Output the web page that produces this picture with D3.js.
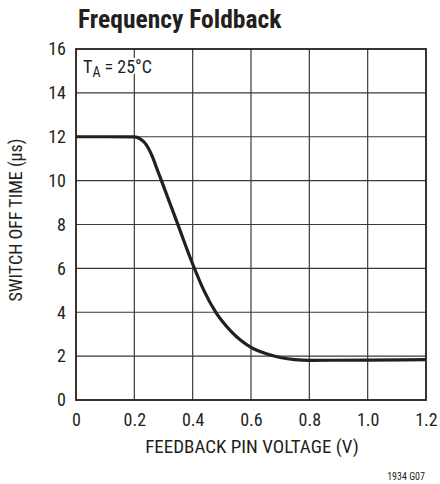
<!DOCTYPE html>
<html>
<head>
<meta charset="utf-8">
<script src="https://cdn.jsdelivr.net/npm/d3@7"></script>
<style>
  body { margin: 0; background: #fff; }
  svg { display: block; }
  text { font-family: "Liberation Sans Narrow", "Arial Narrow", "Roboto Condensed", "Liberation Sans", sans-serif; fill: #231f20; }
</style>
</head>
<body>
<svg id="chart" width="440" height="484"></svg>
<script>
// Data
const voltage = [0, 0.1, 0.2, 0.22, 0.24, 0.26, 0.28, 0.3, 0.35, 0.4, 0.44, 0.48, 0.53, 0.6, 0.65, 0.7, 0.75, 0.8, 1.0, 1.2];
const offTime = [12, 12, 11.99, 11.9, 11.65, 11.15, 10.45, 9.75, 7.97, 6.2, 4.95, 3.98, 3.15, 2.4, 2.12, 1.94, 1.84, 1.81, 1.82, 1.84];
const xTicks = [0, 0.2, 0.4, 0.6, 0.8, 1.0, 1.2];
const xTickLabels = ["0", "0.2", "0.4", "0.6", "0.8", "1.0", "1.2"];
const yTicks = [0, 2, 4, 6, 8, 10, 12, 14, 16];
const title = "Frequency Foldback";
const xLabel = "FEEDBACK PIN VOLTAGE (V)";
const yLabel = "SWITCH OFF TIME (µs)";
const figId = "1934 G07";

const svg = d3.select("#chart");
const L = 76, R = 426, T = 49, B = 400;
const x = d3.scaleLinear().domain([0, 1.2]).range([L, R]);
const y = d3.scaleLinear().domain([0, 16]).range([B, T]);
const ff = "'Liberation Sans Narrow','Arial Narrow','Roboto Condensed',sans-serif";

// Grid
svg.append("g").selectAll("line").data(xTicks.slice(1, -1)).join("line")
  .attr("x1", d => x(d)).attr("x2", d => x(d)).attr("y1", T).attr("y2", B)
  .attr("stroke", "#3a3a3a").attr("stroke-width", 1.2);
svg.append("g").selectAll("line").data(yTicks.slice(1, -1)).join("line")
  .attr("y1", d => y(d)).attr("y2", d => y(d)).attr("x1", L).attr("x2", R)
  .attr("stroke", "#3a3a3a").attr("stroke-width", 1.2);

// Frame
svg.append("rect").attr("x", L).attr("y", T).attr("width", R - L).attr("height", B - T)
  .attr("fill", "none").attr("stroke", "#231f20").attr("stroke-width", 1.8);

// Axes (labels only)
const xAxis = d3.axisBottom(x).tickValues(xTicks).tickFormat((d, i) => xTickLabels[i]).tickSize(0).tickPadding(13);
const gx = svg.append("g").attr("transform", `translate(0,${B})`).call(xAxis);
gx.select(".domain").remove();
gx.selectAll("text").attr("font-size", 18).attr("fill", "#231f20").style("font-family", ff);

const yAxis = d3.axisLeft(y).tickValues(yTicks).tickFormat(d3.format("d")).tickSize(0).tickPadding(10);
const gy = svg.append("g").attr("transform", `translate(${L},0)`).call(yAxis);
gy.select(".domain").remove();
gy.selectAll("text").attr("font-size", 18).attr("fill", "#231f20").style("font-family", ff);

// Curve
const pts = voltage.map((v, i) => [v, offTime[i]]);
const line = d3.line().x(d => x(d[0])).y(d => y(d[1])).curve(d3.curveMonotoneX);
svg.append("path").datum(pts).attr("d", line)
  .attr("fill", "none").attr("stroke", "#231f20").attr("stroke-width", 3.2)
  .attr("stroke-linejoin", "round");

// Annotation
const ta = svg.append("text").attr("x", 83).attr("y", 73).attr("font-size", 18)
  .attr("stroke", "#fff").attr("stroke-width", 4).attr("paint-order", "stroke");
ta.append("tspan").text("T");
ta.append("tspan").attr("font-size", 14).attr("dy", 4).text("A");
ta.append("tspan").attr("dy", -4).text(" = 25°C");

// Title
svg.append("text").attr("x", 78).attr("y", 28).attr("font-size", 25.5).attr("font-weight", "bold")
  .text(title);

// Axis titles
svg.append("text").attr("x", (L + R) / 2 + 1).attr("y", 453).attr("text-anchor", "middle")
  .attr("font-size", 19).text(xLabel);
svg.append("text").attr("transform", `translate(22,220) rotate(-90)`)
  .attr("text-anchor", "middle").attr("font-size", 18).text(yLabel);

// Figure id
svg.append("text").attr("x", 425).attr("y", 480).attr("text-anchor", "end")
  .attr("font-size", 10).text(figId);
</script>
</body>
</html>
